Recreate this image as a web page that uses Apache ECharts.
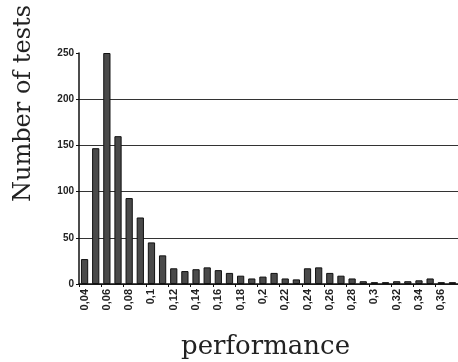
<!DOCTYPE html>
<html>
<head>
<meta charset="utf-8">
<script src="https://cdn.jsdelivr.net/npm/echarts@6/dist/echarts.min.js"></script>
<style>html,body{margin:0;padding:0;background:#fff;}#c{width:458px;height:362px;}</style>
</head>
<body>
<div id="c"></div>
<script>
var categories = ['0,04','0,05','0,06','0,07','0,08','0,09','0,1','0,11','0,12','0,13',
  '0,14','0,15','0,16','0,17','0,18','0,19','0,2','0,21','0,22','0,23',
  '0,24','0,25','0,26','0,27','0,28','0,29','0,3','0,31','0,32','0,33',
  '0,34','0,35','0,36','0,37'];
var testCounts = [27,147,250,160,93,72,45,31,17,14,
  16,18,15,12,9,6,8,12,6,5,
  17,18,12,9,6,3,2,2,3,3,
  4,6,2,2];
var yTicks = [0,50,100,150,200,250];
var yName = 'Number of tests';
var xName = 'performance';

var chart = echarts.init(document.getElementById('c'), null, {renderer:'canvas'});
chart.setOption({
  backgroundColor: '#ffffff',
  animation: false,
  grid: {left: 79, right: 0, top: 53, bottom: 78},
  xAxis: {
    type: 'category',
    data: categories,
    boundaryGap: true,
    axisLine: {lineStyle: {color: '#111', width: 1.5}},
    axisTick: {show: true, length: 3, lineStyle: {color: '#111', width: 1}},
    axisLabel: {
      interval: 1, rotate: 90, margin: 5,
      fontFamily: 'Liberation Sans', fontSize: 11, fontWeight: 'bold', color: '#222'
    },
    splitLine: {show: false}
  },
  yAxis: {
    type: 'value',
    min: yTicks[0], max: yTicks[yTicks.length-1], interval: 50,
    axisLine: {show: true, lineStyle: {color: '#111', width: 1.5}},
    axisTick: {show: true, length: 3, lineStyle: {color: '#111'}},
    axisLabel: {
      margin: 5, fontFamily: 'Liberation Sans', fontSize: 10, fontWeight: 'bold', color: '#222'
    },
    splitLine: {show: true, lineStyle: {color: '#333', width: 1},
      showMaxLine: false}
  },
  graphic: [
    {type: 'text', left: 12, top: 5, rotation: Math.PI/2,
     style: {text: yName, font: '24px "DejaVu Serif"', fill: '#222'}},
    {type: 'text', left: 181, top: 334,
     style: {text: xName, font: '26px "DejaVu Serif"', fill: '#222'}}
  ],
  series: [{
    type: 'bar',
    data: testCounts,
    barWidth: '65%',
    itemStyle: {color: '#4a4a4a', borderColor: '#111', borderWidth: 1}
  }]
});
</script>
</body>
</html>
